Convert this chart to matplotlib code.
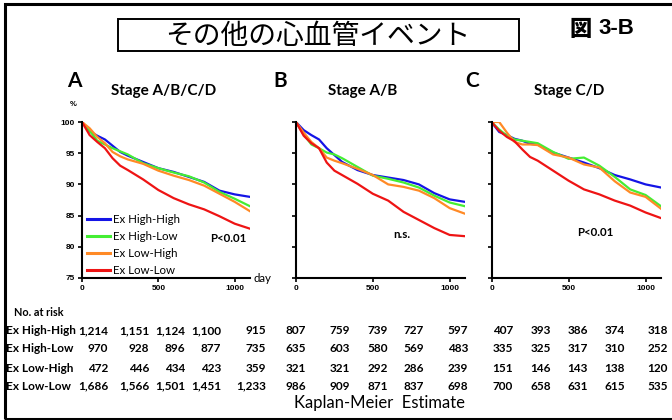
import matplotlib
matplotlib.use("Agg")
import matplotlib.pyplot as plt
from matplotlib.patches import Rectangle

W, H = 672, 420

# ---------------- data ----------------
days = [0, 50, 100, 150, 200, 250, 300, 400, 500, 600, 700, 800, 900, 1000, 1100]
groups = ["Ex High-High", "Ex High-Low", "Ex Low-High", "Ex Low-Low"]
colors = ["#1414e6", "#44ee33", "#ff8a26", "#ee1414"]

# Panel A: Stage A/B/C/D
a_high_high = [100, 98.5, 97.8, 97.2, 96.2, 95.2, 94.6, 93.6, 92.6, 92.0, 91.2, 90.4, 89.0, 88.4, 88.0]
a_high_low  = [100, 98.6, 97.0, 96.4, 95.8, 95.3, 94.8, 93.4, 92.6, 91.9, 91.3, 90.3, 88.8, 87.7, 86.5]
a_low_high  = [100, 99.0, 97.6, 96.6, 95.2, 94.5, 94.0, 93.3, 92.2, 91.4, 90.7, 89.8, 88.5, 87.2, 85.7]
a_low_low   = [100, 97.9, 96.8, 95.8, 94.2, 93.0, 92.3, 90.8, 89.1, 87.8, 86.8, 86.0, 84.9, 83.7, 82.9]
# Panel B: Stage A/B
b_high_high = [100, 98.7, 97.9, 97.2, 95.8, 94.7, 93.6, 92.3, 91.5, 91.1, 90.7, 90.0, 88.6, 87.6, 87.2]
b_high_low  = [100, 98.0, 96.4, 95.8, 95.1, 94.8, 94.2, 92.8, 91.4, 90.9, 90.3, 89.5, 88.2, 87.1, 86.5]
b_low_high  = [100, 98.3, 96.8, 95.8, 94.3, 93.8, 93.4, 92.5, 91.5, 90.0, 89.6, 89.0, 87.8, 86.2, 85.3]
b_low_low   = [100, 97.8, 96.6, 95.8, 93.5, 92.2, 91.5, 90.1, 88.5, 87.4, 85.6, 84.3, 83.0, 81.9, 81.7]
# Panel C: Stage C/D
c_high_high = [100, 98.4, 97.9, 97.3, 97.0, 96.5, 96.4, 95.1, 94.3, 93.5, 92.6, 91.5, 90.8, 90.0, 89.5]
c_high_low  = [100, 98.8, 97.8, 97.2, 97.0, 96.8, 96.6, 95.2, 94.1, 94.3, 93.0, 91.2, 89.2, 88.3, 86.5]
c_low_high  = [100, 100, 98.3, 96.8, 96.4, 96.4, 96.3, 94.8, 94.3, 93.2, 92.7, 90.5, 88.7, 88.0, 86.1]
c_low_low   = [100, 98.6, 97.6, 96.9, 95.6, 94.4, 93.8, 92.2, 90.6, 89.2, 88.4, 87.4, 86.6, 85.5, 84.6]

panel_letters = ["A", "B", "C"]
panel_titles = ["Stage A/B/C/D", "Stage A/B", "Stage C/D"]
p_values = ["P<0.01", "n.s.", "P<0.01"]

# numbers at risk at day 0, 250, 500, 750, 1000 for each panel
risk_a = [[1214, 1151, 1124, 1100, 915], [970, 928, 896, 877, 735],
          [472, 446, 434, 423, 359], [1686, 1566, 1501, 1451, 1233]]
risk_b = [[807, 759, 739, 727, 597], [635, 603, 580, 569, 483],
          [321, 321, 292, 286, 239], [986, 909, 871, 837, 698]]
risk_c = [[407, 393, 386, 374, 318], [335, 325, 317, 310, 252],
          [151, 146, 143, 138, 120], [700, 658, 631, 615, 535]]

y_ticks = [75, 80, 85, 90, 95, 100]
x_ticks = [0, 500, 1000]

# ---------------- layout ----------------
fig = plt.figure(figsize=(W / 100, H / 100), dpi=100)
LAT = ["Lato", "DejaVu Sans"]
NAR = ["Liberation Sans Narrow", "Liberation Sans", "DejaVu Sans"]
JP = ["Noto Sans CJK JP", "DejaVu Sans"]


def fx(x):
    return x / W


def fy(y):
    return 1 - y / H


def ftext(x, y, s, **kw):
    fig.text(fx(x), fy(y), s, **kw)


# outer frame (left/top/bottom visible)
fig.add_artist(Rectangle((fx(5), fy(419)), fx(700) - fx(5), fy(4) - fy(419),
                         transform=fig.transFigure, fill=False, lw=2.2, ec="black"))
# title box
fig.add_artist(Rectangle((fx(118), fy(51)), fx(519) - fx(118), fy(19) - fy(51),
                         transform=fig.transFigure, fill=False, lw=1.4, ec="black"))
ftext(318, 36, "その他の心血管イベント", family=JP, fontsize=20, ha="center", va="center")
ftext(581, 29, "図", family=JP, fontsize=16, weight="heavy", ha="center", va="center")
ftext(598, 29, "3-B", family=["Liberation Sans", "DejaVu Sans"], fontsize=16,
      weight="bold", ha="left", va="center")

axes_px = [(82, 250), (296, 465), (491.5, 661)]
top_px, bot_px = 122, 278
series = [[a_high_high, a_high_low, a_low_high, a_low_low],
          [b_high_high, b_high_low, b_low_high, b_low_low],
          [c_high_high, c_high_low, c_low_high, c_low_low]]
letter_x = [74, 280, 472]
title_x = [164, 363, 569]
pval_pos = [(228, 238), (402, 234), (595, 233)]

for i, (l, r) in enumerate(axes_px):
    ax = fig.add_axes([fx(l), fy(bot_px), fx(r) - fx(l), fy(top_px) - fy(bot_px)])
    for vals, col, name in zip(series[i], colors, groups):
        ax.plot(days, vals, color=col, lw=1.6, label=name)
    ax.set_xlim(0, 1100)
    ax.set_ylim(75, 100)
    for s in ["top", "right"]:
        ax.spines[s].set_visible(False)
    for s in ["left", "bottom"]:
        ax.spines[s].set_linewidth(1.5)
    ax.set_xticks(x_ticks)
    ax.set_yticks(y_ticks)
    ax.tick_params(direction="out", length=3, width=1.2, labelsize=6, pad=2)
    for lab in ax.get_xticklabels() + ax.get_yticklabels():
        lab.set_family(NAR)
        lab.set_weight("bold")
    if i > 0:
        ax.set_yticklabels([])
    else:
        leg = ax.legend(loc="lower left", bbox_to_anchor=(0.03, 0.015), frameon=False,
                        prop={"family": LAT, "size": 8.3}, handlelength=2.0,
                        handletextpad=0.25, labelspacing=0.5, borderpad=0,
                        borderaxespad=0)
        for ln in leg.get_lines():
            ln.set_linewidth(2.2)
    ax.patch.set_alpha(0)
    ftext(letter_x[i], 81, panel_letters[i], family=LAT, fontsize=15, weight="bold",
          ha="center", va="center")
    ftext(title_x[i], 91, panel_titles[i], family=LAT, fontsize=11, weight="bold",
          ha="center", va="center")
    ftext(*pval_pos[i], p_values[i], family=LAT, fontsize=8.3, weight="bold",
          ha="center", va="center")

ftext(73, 104, "%", family=NAR, fontsize=5.5, weight="bold", ha="center", va="center")
ftext(262, 279, "day", family=LAT, fontsize=8.3, ha="center", va="center")

# ---------------- number at risk table ----------------
ftext(14, 313, "No. at risk", family=LAT, fontsize=7.8, weight="bold", va="center")
row_y = [331, 349, 368, 386]
col_right = [108, 149, 185, 221, 266, 306, 350, 388, 424, 468, 513, 551, 588, 625, 668]
risk_all = [risk_a, risk_b, risk_c]
for r, name in enumerate(groups):
    ftext(6, row_y[r], name, family=LAT, fontsize=8.5, weight="bold", va="center")
    vals = risk_all[0][r] + risk_all[1][r] + risk_all[2][r]
    for c, v in enumerate(vals):
        ftext(col_right[c], row_y[r], f"{v:,}", family=LAT, fontsize=8.5, weight="bold",
              ha="right", va="center")

ftext(380, 403, "Kaplan-Meier  Estimate", family=LAT, fontsize=12, ha="center",
      va="center")

fig.savefig("out.png", dpi=100)
